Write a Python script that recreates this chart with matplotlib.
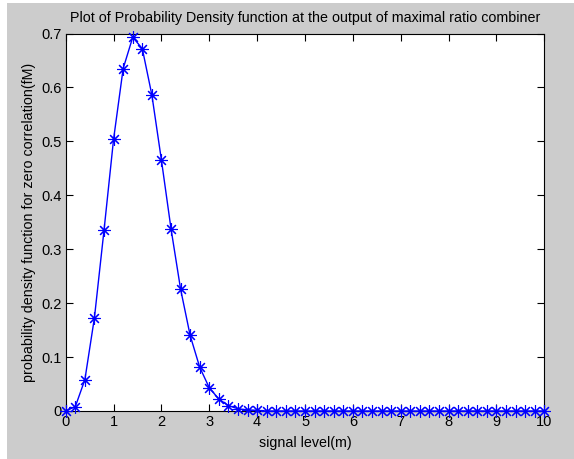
import numpy as np
import matplotlib
matplotlib.use("Agg")
import matplotlib.pyplot as plt
from matplotlib.patches import Rectangle

# signal level samples and pdf values
signal_level = [0.0, 0.2, 0.4, 0.6, 0.8, 1.0, 1.2, 1.4, 1.6, 1.8,
                2.0, 2.2, 2.4, 2.6, 2.8, 3.0, 3.2, 3.4, 3.6, 3.8,
                4.0, 4.2, 4.4, 4.6, 4.8, 5.0, 5.2, 5.4, 5.6, 5.8,
                6.0, 6.2, 6.4, 6.6, 6.8, 7.0, 7.2, 7.4, 7.6, 7.8,
                8.0, 8.2, 8.4, 8.6, 8.8, 9.0, 9.2, 9.4, 9.6, 9.8, 10.0]
pdf_values = [0.0, 0.008, 0.058, 0.173, 0.335, 0.504, 0.635, 0.693, 0.672, 0.586,
              0.465, 0.338, 0.226, 0.140, 0.081, 0.043, 0.022, 0.010, 0.004, 0.002,
              0.001, 0.0, 0.0, 0.0, 0.0, 0.0, 0.0, 0.0, 0.0, 0.0,
              0.0, 0.0, 0.0, 0.0, 0.0, 0.0, 0.0, 0.0, 0.0, 0.0,
              0.0, 0.0, 0.0, 0.0, 0.0, 0.0, 0.0, 0.0, 0.0, 0.0, 0.0]
x_ticks = [0, 1, 2, 3, 4, 5, 6, 7, 8, 9, 10]
y_ticks = [0, 0.1, 0.2, 0.3, 0.4, 0.5, 0.6, 0.7]
y_labels = ['0', '0.1', '0.2', '0.3', '0.4', '0.5', '0.6', '0.7']

plt.rcParams['font.family'] = ['Liberation Sans', 'DejaVu Sans']

fig = plt.figure(figsize=(5.74, 4.59), dpi=100)
fig.patch.set_facecolor('white')
# grey MATLAB figure background with thin white margin on the left/top
fig.patches.append(Rectangle((7 / 574, 0), 1, 1 - 3 / 459, transform=fig.transFigure,
                             facecolor='#cccccc', edgecolor='none', zorder=-10))

ax = fig.add_axes([0.1145, 0.1046, 0.8338, 0.8224])
ax.plot(signal_level, pdf_values, color='#0000ff', lw=1, marker=(8, 2, 0),
        markersize=9, markeredgewidth=0.8, clip_on=False, zorder=3)

ax.set_xlim(0, 10)
ax.set_ylim(0, 0.7)
ax.set_xticks(x_ticks)
ax.set_yticks(y_ticks)
ax.set_yticklabels(y_labels)
ax.tick_params(direction='in', length=5, width=0.8, top=True, right=True,
               labelsize=10.5, colors='black', pad=3)
for s in ax.spines.values():
    s.set_linewidth(0.8)

ax.set_title('Plot of Probability Density function at the output of maximal ratio combiner',
             fontsize=10.3, pad=8)
ax.set_xlabel('signal level(m)', fontsize=10.3, labelpad=5)
ax.set_ylabel('probability density function for zero correlation(fM)', fontsize=10.3, labelpad=4)

fig.savefig('out.png', dpi=100, facecolor=fig.get_facecolor())
